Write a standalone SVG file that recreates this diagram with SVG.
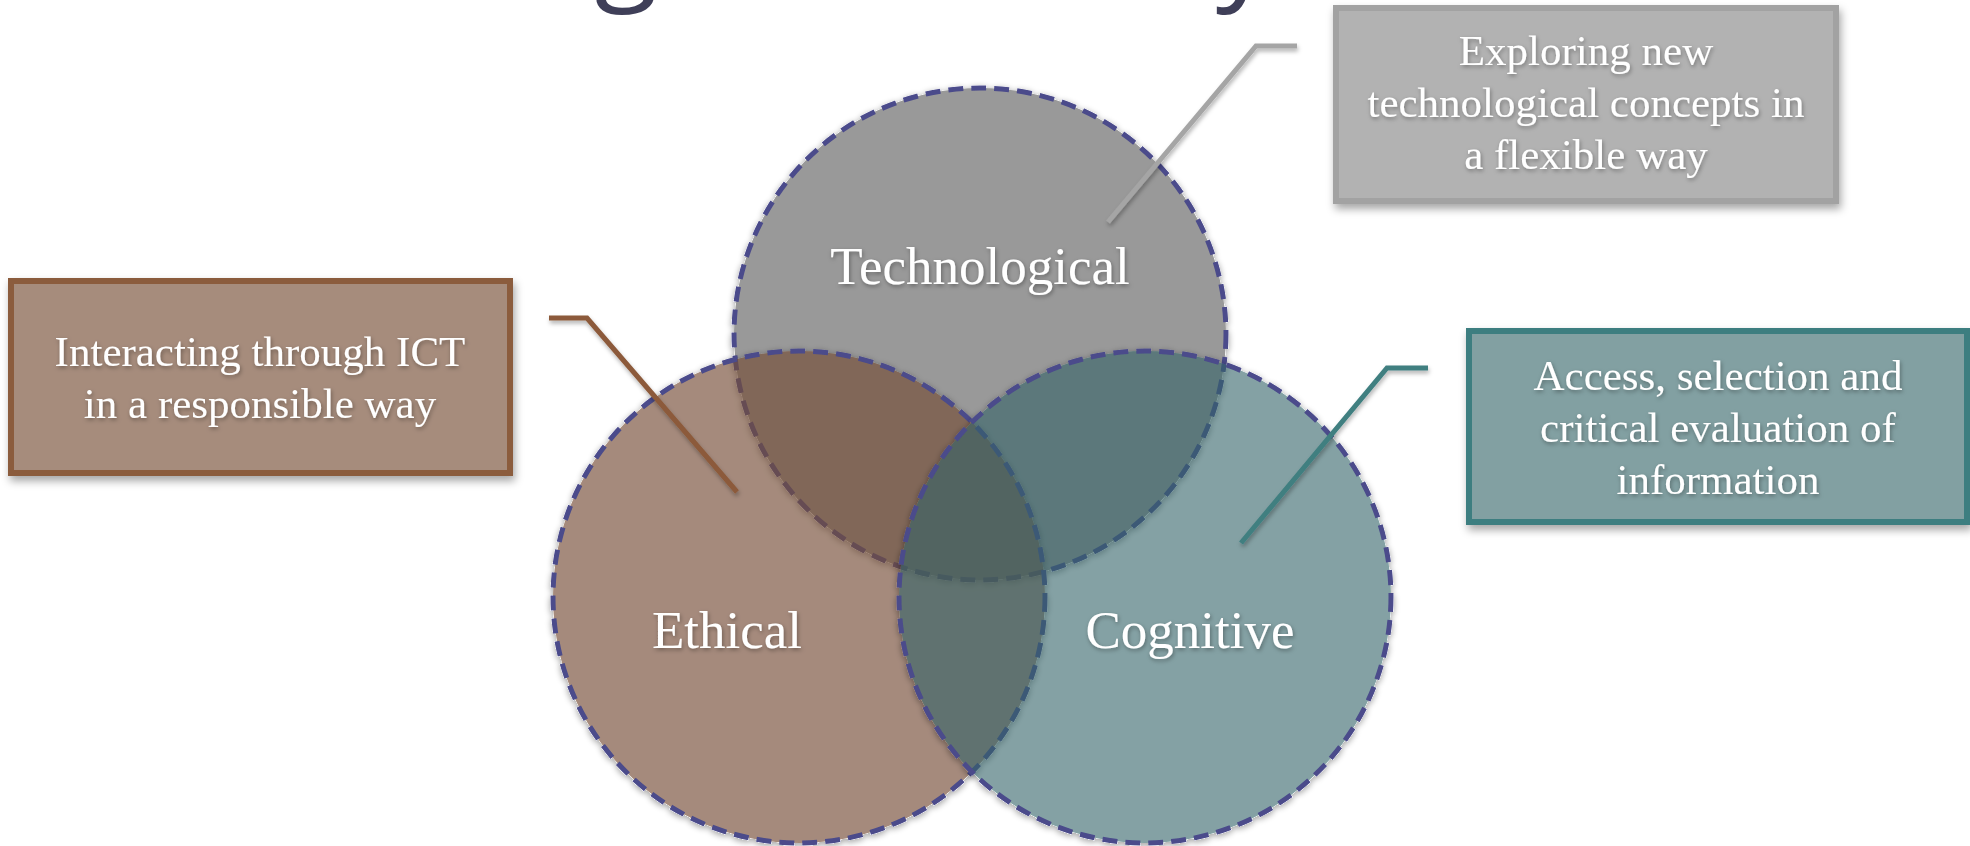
<svg xmlns="http://www.w3.org/2000/svg" width="1970" height="846" viewBox="0 0 1970 846">
<defs>
<filter id="tsh" x="-10%" y="-30%" width="120%" height="160%"><feDropShadow dx="1" dy="2" stdDeviation="2" flood-color="#000" flood-opacity="0.35"/></filter>
<filter id="bsh" x="-10%" y="-10%" width="120%" height="130%"><feDropShadow dx="2" dy="5" stdDeviation="4" flood-color="#000" flood-opacity="0.35"/></filter>
<filter id="csh" x="-10%" y="-10%" width="120%" height="120%">
<feColorMatrix in="SourceAlpha" type="matrix" values="0 0 0 0 0 0 0 0 0 0 0 0 0 0 0 0 0 0 10 0" result="a"/>
<feGaussianBlur in="a" stdDeviation="3" result="b"/>
<feOffset in="b" dy="2" result="c"/>
<feComposite in="c" in2="a" operator="out" result="d"/>
<feComponentTransfer in="d" result="e"><feFuncA type="linear" slope="0.35"/></feComponentTransfer>
<feMerge><feMergeNode in="e"/><feMergeNode in="SourceGraphic"/></feMerge>
</filter>
<filter id="lsh" x="-20%" y="-20%" width="140%" height="140%"><feDropShadow dx="1" dy="3" stdDeviation="2" flood-color="#000" flood-opacity="0.3"/></filter>
</defs>
<style>
.title{font-family:"Open Sans","DejaVu Sans",sans-serif;font-size:116px;fill:#3f3f58}
.circ{stroke:#4b4b8b;stroke-width:5;stroke-dasharray:15 8;filter:url(#csh)}
.lbl{font-family:"Liberation Serif","Times New Roman",serif;font-size:53px;fill:#fff;text-anchor:middle;filter:url(#tsh)}
.box{stroke-width:6;filter:url(#bsh)}
.btxt{font-family:"Liberation Serif","Times New Roman",serif;font-size:43px;fill:#fff;text-anchor:middle;filter:url(#tsh)}
.conn{fill:none;stroke-width:5;filter:url(#lsh)}
</style>
<rect width="1970" height="846" fill="#ffffff"/>
<text class="title" x="481" y="-13">Digital Literacy</text>
<g id="technological">
<circle class="circ" cx="980" cy="334" r="246" fill="#999999"/>
</g>
<g id="ethical">
<circle class="circ" cx="799" cy="597" r="246" fill="#744d34" fill-opacity="0.65"/>
</g>
<g id="cognitive">
<circle class="circ" cx="1145" cy="597" r="246" fill="#306467" fill-opacity="0.6"/>
</g>
<g id="labels">
<text class="lbl" x="980" y="284">Technological</text>
<text class="lbl" x="727" y="648">Ethical</text>
<text class="lbl" x="1190" y="648">Cognitive</text>
</g>
<g id="connectors">
<polyline class="conn" points="1297,46 1256,46 1108,222" stroke="#a5a5a5"/>
<polyline class="conn" points="549,318 587,318 737,492" stroke="#8c5a3a"/>
<polyline class="conn" points="1428,368 1387,368 1241,543" stroke="#3f7f80"/>
</g>
<g id="box-technological">
<rect class="box" x="1336" y="8" width="500" height="193" fill="#b2b2b2" stroke="#a2a2a2"/>
<text class="btxt" x="1586" y="65">Exploring new</text>
<text class="btxt" x="1586" y="117">technological concepts in</text>
<text class="btxt" x="1586" y="169">a flexible way</text>
</g>
<g id="box-ethical">
<rect class="box" x="11" y="281" width="499" height="192" fill="#a68c7c" stroke="#8b5b3c"/>
<text class="btxt" x="260" y="366">Interacting through ICT</text>
<text class="btxt" x="260" y="418">in a responsible way</text>
</g>
<g id="box-cognitive">
<rect class="box" x="1469" y="331" width="498" height="191" fill="#82a0a2" stroke="#3e7e80"/>
<text class="btxt" x="1718" y="390">Access, selection and</text>
<text class="btxt" x="1718" y="442">critical evaluation of</text>
<text class="btxt" x="1718" y="494">information</text>
</g>
</svg>
